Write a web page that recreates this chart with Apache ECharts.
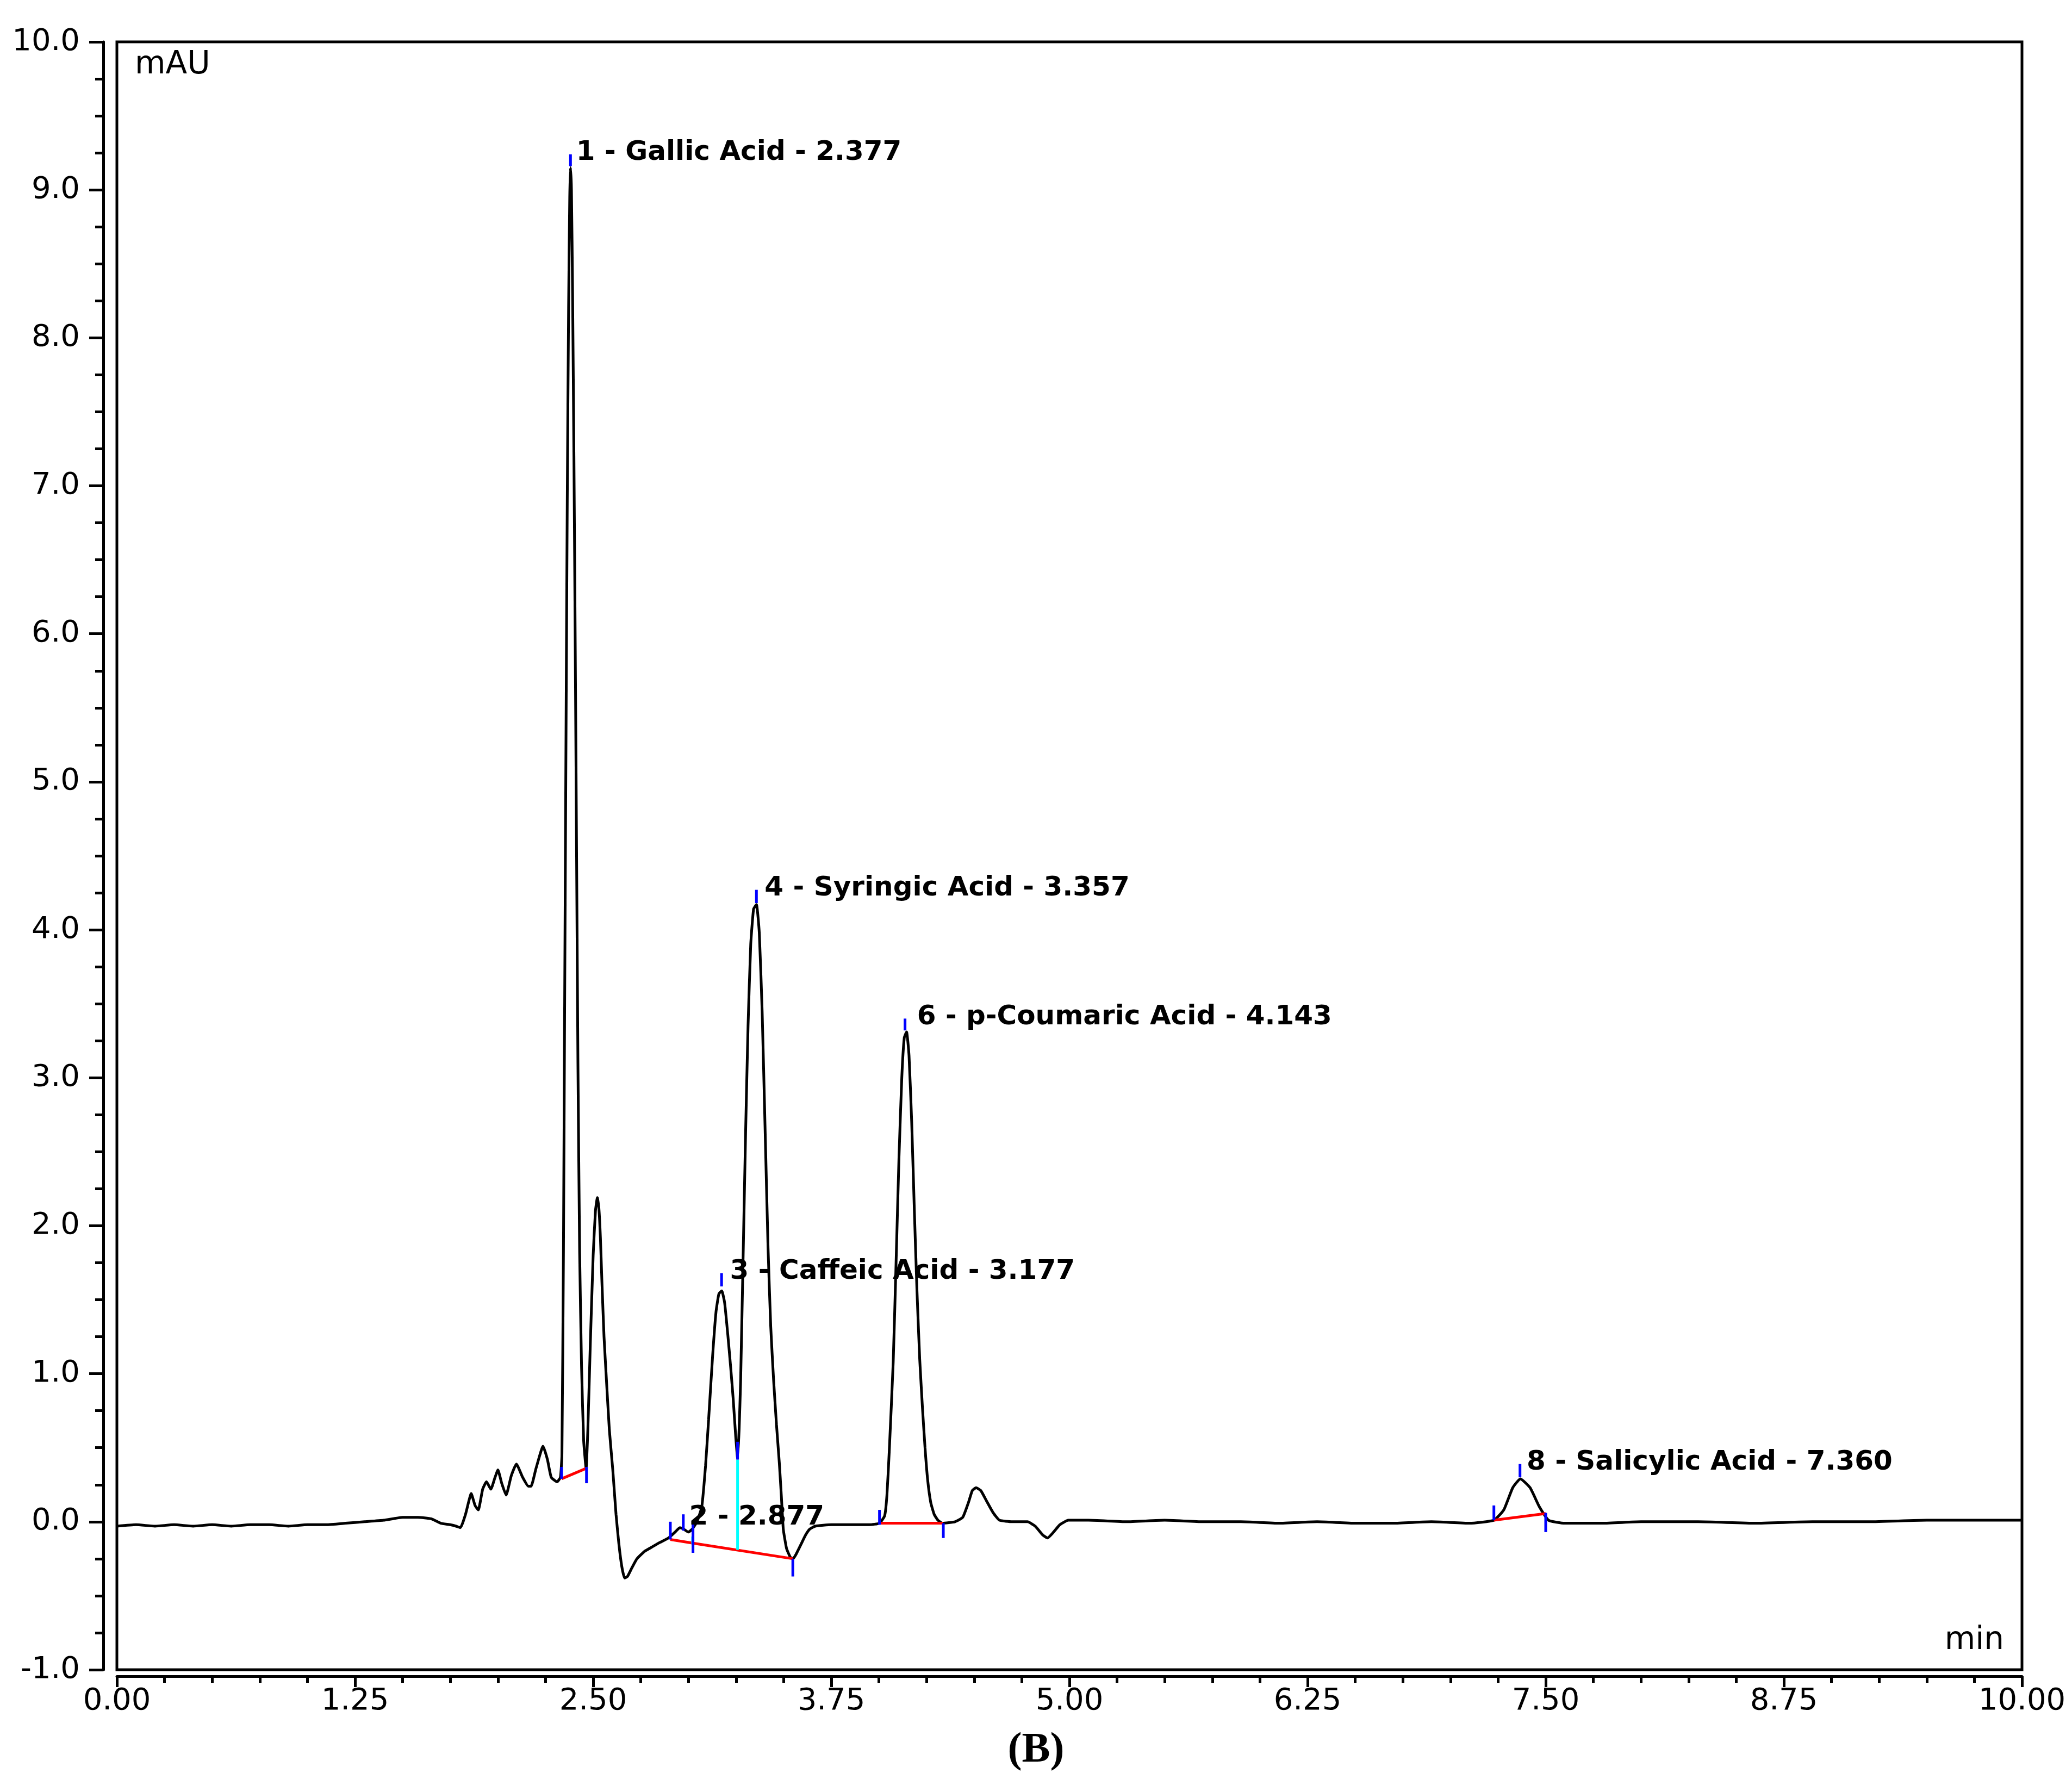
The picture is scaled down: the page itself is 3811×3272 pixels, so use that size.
<!DOCTYPE html>
<html><head><meta charset="utf-8">
<script src="https://cdn.jsdelivr.net/npm/echarts@6/dist/echarts.min.js"></script>
<style>html,body{margin:0;padding:0;background:#fff}#c{width:3811px;height:3272px}</style>
</head><body><div id="c"></div>
<script>
// ---- data (retention time in min, signal in mAU) ----
const timeMin = [0,0.1,0.2,0.3,0.4,0.5,0.6,0.7,0.8,0.9,1.0,1.1,1.2,1.3,1.4,1.5,1.58,1.65,1.7,1.75,1.78,1.803,
1.83,1.86,1.88,1.897,1.92,1.94,1.963,1.985,2.0,2.02,2.043,2.07,2.097,2.13,2.16,2.174,2.2,2.237,2.26,2.28,2.311,2.328,2.336,2.344,
2.350,2.357,2.364,2.371,2.377,2.381,2.386,2.392,2.399,2.406,2.413,2.420,2.429,2.439,2.450,2.463,2.472,2.485,2.500,2.512,2.522,2.530,2.538,2.546,2.557,2.570,2.585,2.603,2.620,2.635,2.650,2.665,
2.680,2.700,2.730,2.770,2.810,2.850,2.895,2.930,2.955,2.975,3.000,3.020,3.045,3.070,3.090,3.106,3.127,3.145,3.160,3.175,3.190,3.207,3.222,3.235,3.248,3.258,3.266,3.274,3.287,3.300,3.313,3.327,3.342,3.357,3.372,3.387,3.402,3.418,3.432,3.447,3.462,3.477,3.488,3.498,3.515,3.535,3.549,3.565,3.592,3.615,3.637,3.666,3.750,3.850,3.950,
4.003,4.030,4.042,4.054,4.075,4.090,4.105,4.120,4.133,4.145,4.158,4.172,4.186,4.200,4.214,4.228,4.242,4.256,4.272,4.290,4.310,4.334,4.400,4.440,4.470,4.490,4.510,4.535,4.565,4.600,4.633,4.700,4.780,4.820,4.860,4.885,4.910,4.950,4.994,
5.1,5.3,5.5,5.7,5.9,6.1,6.3,6.5,6.7,6.9,7.1,7.228,7.280,7.327,7.367,7.418,7.467,7.515,7.6,7.8,8.0,8.3,8.6,8.9,9.2,9.5,9.8,10.0];
const signalMAU = [-0.03,-0.02,-0.03,-0.02,-0.03,-0.02,-0.03,-0.02,-0.02,-0.03,-0.02,-0.02,-0.01,0.0,0.01,0.03,0.03,0.02,-0.01,-0.02,-0.03,-0.04,
0.05,0.19,0.11,0.08,0.22,0.27,0.22,0.30,0.35,0.26,0.18,0.31,0.39,0.30,0.24,0.24,0.36,0.51,0.42,0.30,0.27,0.30,0.45,1.82,
3.4,5.2,6.9,8.2,8.95,9.15,9.0,8.3,7.2,5.9,4.5,3.1,1.82,1.05,0.55,0.36,0.62,1.20,1.80,2.10,2.19,2.12,1.92,1.62,1.25,0.95,0.62,0.35,0.05,-0.15,-0.30,-0.38,
-0.37,-0.32,-0.25,-0.20,-0.17,-0.14,-0.11,-0.07,-0.04,-0.05,-0.07,-0.05,0.0,0.10,0.38,0.69,1.12,1.42,1.54,1.56,1.48,1.26,1.04,0.83,0.58,0.43,0.62,0.95,1.78,2.62,3.35,3.90,4.14,4.17,3.98,3.45,2.68,1.85,1.32,0.96,0.66,0.40,0.17,-0.05,-0.18,-0.24,-0.25,-0.22,-0.15,-0.09,-0.05,-0.03,-0.02,-0.02,-0.02,
-0.01,0.04,0.18,0.47,1.08,1.75,2.45,3.00,3.27,3.31,3.15,2.70,2.10,1.55,1.10,0.78,0.50,0.28,0.13,0.05,0.01,-0.01,0.0,0.03,0.13,0.21,0.23,0.21,0.14,0.06,0.01,0.0,0.0,-0.03,-0.09,-0.11,-0.08,-0.02,0.01,
0.01,0.0,0.01,0.0,0.0,-0.01,0.0,-0.01,-0.01,0.0,-0.01,0.01,0.08,0.23,0.29,0.23,0.10,0.01,-0.01,-0.01,0.0,0.0,-0.01,0.0,0.0,0.01,0.01,0.01];

// peak labels: [time, mAU at text middle]
const peakLabels = ['1 - Gallic Acid - 2.377','2 - 2.877','3 - Caffeic Acid - 3.177','4 - Syringic Acid - 3.357','6 - p-Coumaric Acid - 4.143','8 - Salicylic Acid - 7.360'];
const labelTime = [2.411, 3.004, 3.218, 3.400, 4.200, 7.400];
const labelMAU  = [9.25, 0.03, 1.69, 4.28, 3.41, 0.40];

// integration baselines (red): [t1, v1, t2, v2]
const baselineSegs = [[2.334,0.29,2.462,0.36],[2.905,-0.12,3.024,-0.145],[3.024,-0.145,3.548,-0.25],[4.003,-0.01,4.337,-0.01],[7.228,0.01,7.50,0.055]];
// peak start / end / apex markers (blue): [t, v1, v2]
const markerSegs = [[2.334,0.29,0.37],[2.465,0.37,0.26],[2.381,9.16,9.24],
  [2.905,-0.12,0.0],[2.973,-0.06,0.05],[3.024,-0.21,0.0],[3.174,1.59,1.68],[3.258,0.42,0.54],[3.357,4.18,4.27],[3.548,-0.25,-0.37],
  [4.003,-0.02,0.08],[4.338,-0.01,-0.11],[4.137,3.32,3.40],
  [7.228,0.01,0.11],[7.365,0.30,0.39],[7.50,0.06,-0.07]];
// peak split drop lines (cyan): [t, v1, v2]
const dropSegs = [[3.258,0.42,-0.19],[3.022,-0.10,-0.15]];

const xTickLabels = ['0.00','1.25','2.50','3.75','5.00','6.25','7.50','8.75','10.00'];

// ---- chart ----
const trace = timeMin.map((t,i)=>[t, signalMAU[i]]);
function lineSeries(data, color, width, z){
  return {type:'custom', z:z, silent:true, clip:false,
    encode:{x:[0,2], y:[1,3]},
    data:data,
    renderItem:function(params, api){
      const p1 = api.coord([api.value(0), api.value(1)]);
      const p2 = api.coord([api.value(2), api.value(3)]);
      return {type:'line', shape:{x1:p1[0],y1:p1[1],x2:p2[0],y2:p2[1]}, style:{stroke:color, lineWidth:width}};
    }};
}
const vert = a => a.map(s=>[s[0], s[1], s[0], s[2]]);

const chart = echarts.init(document.getElementById('c'), null, {renderer:'canvas', width:3811, height:3272});
chart.setOption({
  animation:false,
  backgroundColor:'#ffffff',
  title:{text:'(B)', left:'center', top:3176, textStyle:{fontFamily:'Liberation Serif', fontWeight:'bold', fontSize:78, color:'#000'}},
  grid:{left:215, right:92, top:77, bottom:201, show:true, borderColor:'#000', borderWidth:5, backgroundColor:'transparent', containLabel:false, outerBoundsMode:'none'},
  xAxis:{type:'value', min:0, max:10, interval:1.25, offset:12,
    axisLine:{show:true, onZero:false, lineStyle:{color:'#000', width:5}},
    axisTick:{show:true, length:20, lineStyle:{color:'#000', width:5}},
    minorTick:{show:true, splitNumber:5, length:12, lineStyle:{color:'#000', width:5}},
    axisLabel:{margin:18, formatter:(v)=>xTickLabels[Math.round(v/1.25)], fontFamily:'DejaVu Sans', fontSize:56, color:'#000'},
    splitLine:{show:false}},
  yAxis:{type:'value', min:-1, max:10, interval:1, offset:25,
    axisLine:{show:true, onZero:false, lineStyle:{color:'#000', width:5}},
    axisTick:{show:true, length:26, lineStyle:{color:'#000', width:5}},
    minorTick:{show:true, splitNumber:4, length:15, lineStyle:{color:'#000', width:5}},
    axisLabel:{margin:43, formatter:(v)=>v.toFixed(1), fontFamily:'DejaVu Sans', fontSize:56, color:'#000'},
    splitLine:{show:false}},
  graphic:[
    {type:'text', x:248, y:120, style:{text:'mAU', fontFamily:'DejaVu Sans', fontSize:58, fill:'#000', align:'left', verticalAlign:'middle', textAlign:'left', textVerticalAlign:'middle'}},
    {type:'text', x:3686, y:3018, style:{text:'min', fontFamily:'DejaVu Sans', fontSize:58, fill:'#000', align:'right', verticalAlign:'middle', textAlign:'right', textVerticalAlign:'middle'}}
  ],
  series:[
    {type:'line', data:trace, showSymbol:false, symbol:'none', smooth:0.15, z:2,
      lineStyle:{color:'#000', width:5}, silent:true},
    lineSeries(baselineSegs, '#ff0000', 5, 3),
    lineSeries(vert(dropSegs), '#00ffff', 5, 4),
    lineSeries(vert(markerSegs), '#0000ff', 5, 5),
    {type:'custom', z:6, silent:true, clip:false, encode:{x:0, y:1},
      data:labelTime.map((t,i)=>[t, labelMAU[i]]),
      renderItem:function(params, api){
        const p = api.coord([api.value(0), api.value(1)]);
        return {type:'text', x:p[0], y:p[1], style:{text:peakLabels[params.dataIndex], fontFamily:'DejaVu Sans', fontWeight:'bold', fontSize:50, fill:'#000', align:'left', verticalAlign:'middle'}};
      }}
  ]
});
</script></body></html>
